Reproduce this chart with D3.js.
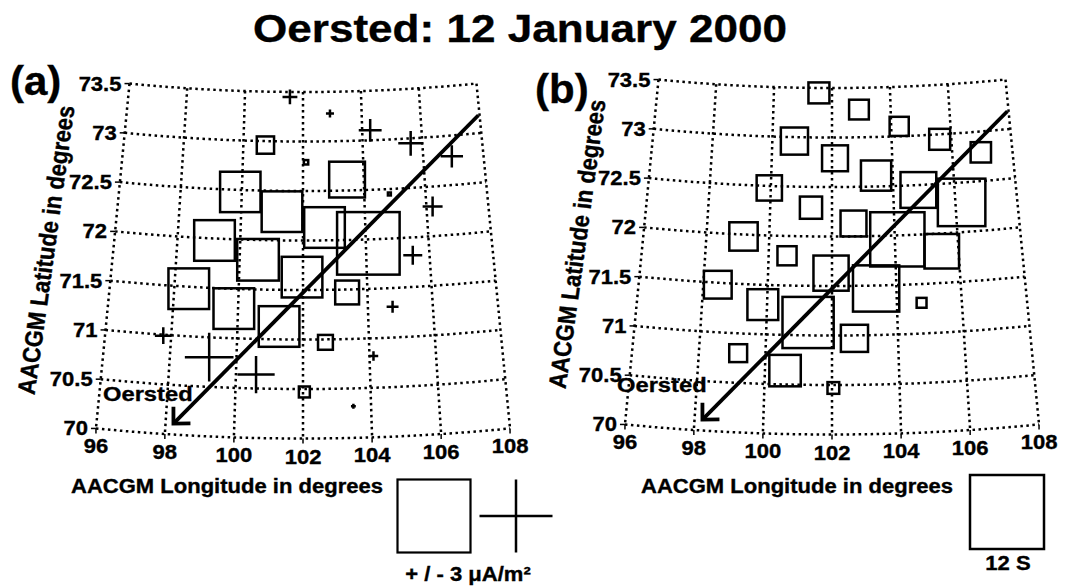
<!DOCTYPE html>
<html>
<head>
<meta charset="utf-8">
<script src="https://cdn.jsdelivr.net/npm/d3@7"></script>
<style>
  body { margin: 0; background: #fff; }
  text { font-family: Arial, "Liberation Sans", sans-serif; font-weight: bold; fill: #000;
         stroke: #000; stroke-width: 0.35px; }
</style>
</head>
<body>
<div id="chart"></div>
<script>
// Observation points in AACGM coordinates (shared by both panels)
const lons = [100.74, 102.10, 103.45, 104.82, 99.95, 101.32, 102.69, 104.08, 99.18, 100.58,
  101.97, 103.37, 98.45, 99.87, 101.27, 102.68, 102.04,
  101.55, 102.92, 104.27, 105.61, 106.95, 106.20, 105.47, 104.76, 97.76, 99.18, 100.60, 104.12, 103.48];
const lats = [72.96, 72.79, 72.61, 72.45, 72.48, 72.29, 72.13, 71.96, 71.98, 71.80,
  71.63, 71.47, 71.48, 71.30, 71.13, 70.97, 70.47,
  73.45, 73.28, 73.10, 72.95, 72.79, 72.30, 71.82, 71.31, 70.99, 70.80, 70.64, 70.82, 70.32];
// Field-aligned current, uA/m^2 (positive drawn as square, negative as cross)
const current = [0.71, 0.18, 1.47, 0.12, 1.66, 1.67, 1.67, 2.57, 1.67, 1.71,
  1.67, 0.98, 1.67, 1.67, 1.67, 0.61, 0.45,
  -0.61, -0.33, -0.94, -1.02, -0.92, -0.82, -0.78, -0.49, -0.69, -2.0, -1.53, -0.39, -0.2];
// Conductance, S
const conductance = [4.4, 4.2, 4.9, 5.8, 4.1, 3.6, 4.2, 8.8, 4.6, 3.1,
  5.7, 7.5, 4.5, 5.0, 8.3, 4.4, 1.9,
  3.4, 3.2, 3.1, 3.4, 3.3, 7.7, 5.6, 1.6, 0, 2.9, 5.1, 0, 0];

// Oersted track (start, end)
const trackLon = [107.96, 98.23];
const trackLat = [73.18, 70.11];

const latTicks = [70, 70.5, 71, 71.5, 72, 72.5, 73, 73.5];
const lonTicks = [96, 98, 100, 102, 104, 106, 108];

const W = 1065, H = 587;
const SX = 1.13; // figure text is slightly stretched horizontally

const svg = d3.select('#chart').append('svg')
  .attr('width', W)
  .attr('height', H);

// polar-style grid: radius from latitude, angle from longitude
const rScale = d3.scaleLinear().domain([73.5, 70]).range([1792, 2138.5]);
const aScale = d3.scaleLinear().domain([102, 108]).range([0, 6 * 0.926 * Math.PI / 180]);
const jSize = d3.scaleLinear().domain([0, 3]).range([0, 73]);
const sSize = d3.scaleLinear().domain([0, 12]).range([0, 74]);

const panels = [
  { pole: [303, -1700], tag: '(a)', tagPos: [10, 95], oersted: [103, 401], latTitle: [46, 250],
    lonTitle: [227, 493], kind: 'current' },
  { pole: [832, -1704], tag: '(b)', tagPos: [535, 103], oersted: [617, 392], latTitle: [577, 244],
    lonTitle: [797, 493], kind: 'conductance' },
];

function stretched(g, x, y, str, size, anchor) {
  return g.append('text')
    .attr('transform', `translate(${x},${y}) scale(${SX},1)`)
    .attr('text-anchor', anchor || 'middle')
    .style('font-size', size + 'px')
    .text(str);
}

svg.append('text')
  .attr('transform', `translate(520,42) scale(${SX},1)`)
  .attr('text-anchor', 'middle')
  .style('font-size', '39px')
  .text('Oersted: 12 January 2000');

panels.forEach((p) => {
  const proj = (lon, lat) => {
    const r = rScale(lat);
    const a = aScale(lon);
    return [p.pole[0] + r * Math.sin(a), p.pole[1] + r * Math.cos(a)];
  };
  const g = svg.append('g');

  // grid
  const line = d3.line();
  const lonSteps = d3.range(96, 108.001, 0.25);
  latTicks.forEach((lat) => {
    g.append('path')
      .attr('d', line(lonSteps.map((lon) => proj(lon, lat))))
      .attr('fill', 'none')
      .attr('stroke', '#000')
      .attr('stroke-width', 2.5)
      .attr('stroke-dasharray', '2.5,3.5');
    const [x, y] = proj(96, lat);
    g.append('line')
      .attr('x1', x - 5).attr('x2', x).attr('y1', y).attr('y2', y)
      .attr('stroke', '#000').attr('stroke-width', 1.5);
    stretched(g, x - 8, y + 7, String(lat), 19.5, 'end');
  });
  lonTicks.forEach((lon) => {
    const a = proj(lon, 73.5);
    const b = proj(lon, 70);
    g.append('line')
      .attr('x1', a[0]).attr('y1', a[1]).attr('x2', b[0]).attr('y2', b[1])
      .attr('stroke', '#000')
      .attr('stroke-width', 2.5)
      .attr('stroke-dasharray', '2.5,3.5');
    g.append('line')
      .attr('x1', b[0]).attr('x2', b[0]).attr('y1', b[1]).attr('y2', b[1] + 5)
      .attr('stroke', '#000').attr('stroke-width', 1.5);
    stretched(g, b[0], b[1] + 25, String(lon), 19.5, 'middle');
  });

  // symbols
  lons.forEach((lon, i) => {
    const [x, y] = proj(lon, lats[i]);
    if (p.kind === 'current') {
      const v = current[i];
      const s = jSize(Math.abs(v));
      if (v >= 0) {
        g.append('rect')
          .attr('x', x - s / 2).attr('y', y - s / 2)
          .attr('width', s).attr('height', s)
          .attr('fill', 'none').attr('stroke', '#000').attr('stroke-width', 2.5);
      } else {
        g.append('path')
          .attr('d', `M${x - s / 2},${y}H${x + s / 2}M${x},${y - s / 2}V${y + s / 2}`)
          .attr('stroke', '#000').attr('stroke-width', 2.5);
      }
    } else if (conductance[i] > 0) {
      const s = sSize(conductance[i]);
      g.append('rect')
        .attr('x', x - s / 2).attr('y', y - s / 2)
        .attr('width', s).attr('height', s)
        .attr('fill', 'none').attr('stroke', '#000').attr('stroke-width', 2.5);
    }
  });

  // satellite track with arrow head at the end
  const t0 = proj(trackLon[0], trackLat[0]);
  const t1 = proj(trackLon[1], trackLat[1]);
  g.append('line')
    .attr('x1', t0[0]).attr('y1', t0[1]).attr('x2', t1[0]).attr('y2', t1[1])
    .attr('stroke', '#000').attr('stroke-width', 3.8);
  const ang = Math.atan2(t0[1] - t1[1], t0[0] - t1[0]);
  const hl = 17;
  g.append('path')
    .attr('d', `M${t1[0] + hl * Math.cos(ang - 0.78)},${t1[1] + hl * Math.sin(ang - 0.78)}`
      + `L${t1[0]},${t1[1]}L${t1[0] + hl * Math.cos(ang + 0.78)},${t1[1] + hl * Math.sin(ang + 0.78)}`)
    .attr('fill', 'none').attr('stroke', '#000').attr('stroke-width', 3.8);
  stretched(g, p.oersted[0], p.oersted[1], 'Oersted', 21, 'start');

  // panel tag and axis titles
  g.append('text')
    .attr('transform', `translate(${p.tagPos[0]},${p.tagPos[1]}) scale(1.05,1)`)
    .style('font-size', '40px')
    .text(p.tag);
  g.append('text')
    .attr('transform', `translate(${p.latTitle[0]},${p.latTitle[1]}) scale(${SX},1) rotate(-83)`)
    .attr('text-anchor', 'middle')
    .attr('dy', '0.35em')
    .style('font-size', '22px')
    .text('AACGM Latitude in degrees');
  stretched(g, p.lonTitle[0], p.lonTitle[1], 'AACGM Longitude in degrees', 19.5, 'middle');
});

// legends
const leg = svg.append('g');
const sq1 = jSize(3);
leg.append('rect')
  .attr('x', 434 - sq1 / 2).attr('y', 516 - sq1 / 2)
  .attr('width', sq1).attr('height', sq1)
  .attr('fill', 'none').attr('stroke', '#000').attr('stroke-width', 2.2);
leg.append('path')
  .attr('d', `M${516 - sq1 / 2},516H${516 + sq1 / 2}M516,${516 - sq1 / 2}V${516 + sq1 / 2}`)
  .attr('stroke', '#000').attr('stroke-width', 2.5);
stretched(leg, 468, 581, '+ / - 3 μA/m²', 19.5, 'middle');
const sq2 = sSize(12);
leg.append('rect')
  .attr('x', 1007 - sq2 / 2).attr('y', 512 - sq2 / 2)
  .attr('width', sq2).attr('height', sq2)
  .attr('fill', 'none').attr('stroke', '#000').attr('stroke-width', 2.5);
stretched(leg, 1008, 570, '12 S', 19.5, 'middle');
</script>
</body>
</html>
